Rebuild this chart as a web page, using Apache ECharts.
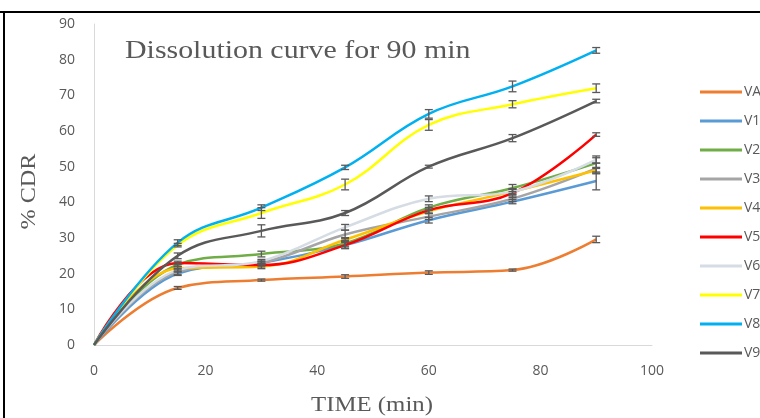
<!DOCTYPE html>
<html>
<head>
<meta charset="utf-8">
<script src="https://cdn.jsdelivr.net/npm/echarts@6/dist/echarts.min.js"></script>
<style>
  html, body { margin: 0; padding: 0; background: #fff; }
  #chart { width: 760px; height: 418px; }
</style>
</head>
<body>
<div id="chart"></div>
<script>
// time points (min)
const times = [0, 15, 30, 45, 60, 75, 90]
const seriesNames = ['VA', 'V1', 'V2', 'V3', 'V4', 'V5', 'V6', 'V7', 'V8', 'V9']

// % CDR values per formulation
const VA = [0, 16, 18.2, 19.2, 20.3, 21.0, 29.6]
const V1 = [0, 20, 23, 28, 35, 40.2, 46]
const V2 = [0, 22.5, 25.5, 28.5, 38.5, 44, 51]
const V3 = [0, 20.5, 23, 31, 36, 41, 49.5]
const V4 = [0, 21.5, 22, 29.5, 37.5, 43, 49]
const V5 = [0, 23, 22.4, 28, 37.8, 42.6, 59]
const V6 = [0, 21, 23.5, 33, 41, 43, 52]
const V7 = [0, 28, 37, 45, 61.7, 67.5, 72]
const V8 = [0, 28.7, 38.5, 49.8, 64.8, 72.5, 82.6]
const V9 = [0, 25, 32, 37, 50, 58, 68.4]

// standard deviations (error bars)
const errVA = [0, 0.4, 0.3, 0.5, 0.5, 0.3, 0.9]
const errV1 = [0, 0.5, 0.5, 1, 0.8, 0.6, 2.5]
const errV2 = [0, 0.5, 0.8, 0.8, 0.8, 1, 1.5]
const errV3 = [0, 0.8, 0.5, 1.2, 0.8, 0.8, 1.5]
const errV4 = [0, 0.5, 0.6, 0.6, 0.6, 0.6, 0.8]
const errV5 = [0, 0.5, 0.5, 0.8, 0.8, 1.2, 0.5]
const errV6 = [0, 0.5, 0.5, 0.8, 0.8, 0.8, 1]
const errV7 = [0, 0.5, 1.5, 1.5, 1.5, 1, 1.2]
const errV8 = [0, 0.8, 0.8, 0.6, 1.2, 1.5, 0.8]
const errV9 = [0, 0.8, 1.7, 0.7, 0.4, 1, 0.5]

const values = [VA, V1, V2, V3, V4, V5, V6, V7, V8, V9]
const errors = [errVA, errV1, errV2, errV3, errV4, errV5, errV6, errV7, errV8, errV9]
const colors = ['#ED7D31', '#5B9BD5', '#70AD47', '#A5A5A5', '#FFC000',
  '#FF0000', '#D6DCE4', '#FFFF00', '#00B0F0', '#595959']

const chart = echarts.init(document.getElementById('chart'))

let lineSeries = seriesNames.map((name, i) => ({
  name: name,
  type: 'line',
  smooth: 0.4,
  symbol: 'none',
  lineStyle: { width: 2.5, color: colors[i] },
  itemStyle: { color: colors[i] },
  data: times.map((t, j) => [t, values[i][j]]),
  z: 2,
}))

let errData = []
values.forEach((vals, i) => {
  times.forEach((t, j) => {
    if (errors[i][j] > 0) errData.push([t, vals[j], errors[i][j]])
  })
})

const errSeries = {
  type: 'custom',
  name: 'err',
  data: errData,
  z: 5,
  renderItem: (params, api) => {
    let x = api.value(0)
    let y = api.value(1)
    let e = api.value(2)
    let top = api.coord([x, y + e])
    let bot = api.coord([x, y - e])
    let cap = 4
    let style = { stroke: '#595959', lineWidth: 1.3 }
    return {
      type: 'group',
      children: [
        { type: 'line', shape: { x1: top[0], y1: top[1], x2: bot[0], y2: bot[1] }, style: style },
        { type: 'line', shape: { x1: top[0] - cap, y1: top[1], x2: top[0] + cap, y2: top[1] }, style: style },
        { type: 'line', shape: { x1: bot[0] - cap, y1: bot[1], x2: bot[0] + cap, y2: bot[1] }, style: style },
      ],
    }
  },
}

// serif texts are a bit wider in the original, so stretch them
const serifText = (text, x, y, size, sx, rot) => ({
  type: 'text',
  x: x,
  y: y,
  rotation: rot || 0,
  scaleX: sx,
  style: {
    text: text,
    fontFamily: 'Liberation Serif',
    fontSize: size,
    fill: '#595959',
    align: rot ? 'center' : 'left',
    verticalAlign: 'middle',
  },
})

let titleText = serifText('Dissolution curve for 90 min', 125, 51, 26, 1.15)
let xName = serifText('TIME (min)', 372, 405, 21, 1.18)
xName.style.align = 'center'
let yName = serifText('% CDR', 29.5, 191.5, 22, 1.1, Math.PI / 2)

chart.setOption({
  animation: false,
  backgroundColor: '#fff',
  grid: { left: 94, right: 108, top: 24, bottom: 73 },
  legend: {
    orient: 'vertical',
    left: 695,
    top: 80,
    itemWidth: 42,
    itemHeight: 3,
    itemGap: 15,
    icon: 'rect',
    data: seriesNames,
    textStyle: {
      fontFamily: 'Open Sans',
      fontSize: 14,
      color: '#595959',
      lineHeight: 14,
      padding: [0, 0, 0, -3],
    },
  },
  xAxis: {
    type: 'value',
    min: 0,
    max: 100,
    interval: 20,
    axisLine: { show: true, lineStyle: { color: '#D9D9D9', width: 1 } },
    axisTick: { show: false },
    splitLine: { show: false },
    axisLabel: {
      margin: 19,
      fontFamily: 'Open Sans',
      fontSize: 14,
      color: '#595959',
    },
  },
  yAxis: {
    type: 'value',
    min: 0,
    max: 90,
    interval: 10,
    axisLine: { show: true, lineStyle: { color: '#D9D9D9', width: 1 } },
    axisTick: { show: false },
    splitLine: { show: false },
    axisLabel: {
      margin: 19,
      fontFamily: 'Open Sans',
      fontSize: 14,
      color: '#595959',
    },
  },
  graphic: [
    { type: 'line', shape: { x1: 0, y1: 12, x2: 760, y2: 12 }, style: { stroke: '#000', lineWidth: 2 } },
    { type: 'line', shape: { x1: 4, y1: 12, x2: 4, y2: 418 }, style: { stroke: '#000', lineWidth: 2 } },
    titleText,
    xName,
    yName,
  ],
  series: lineSeries.concat([errSeries]),
})
</script>
</body>
</html>
